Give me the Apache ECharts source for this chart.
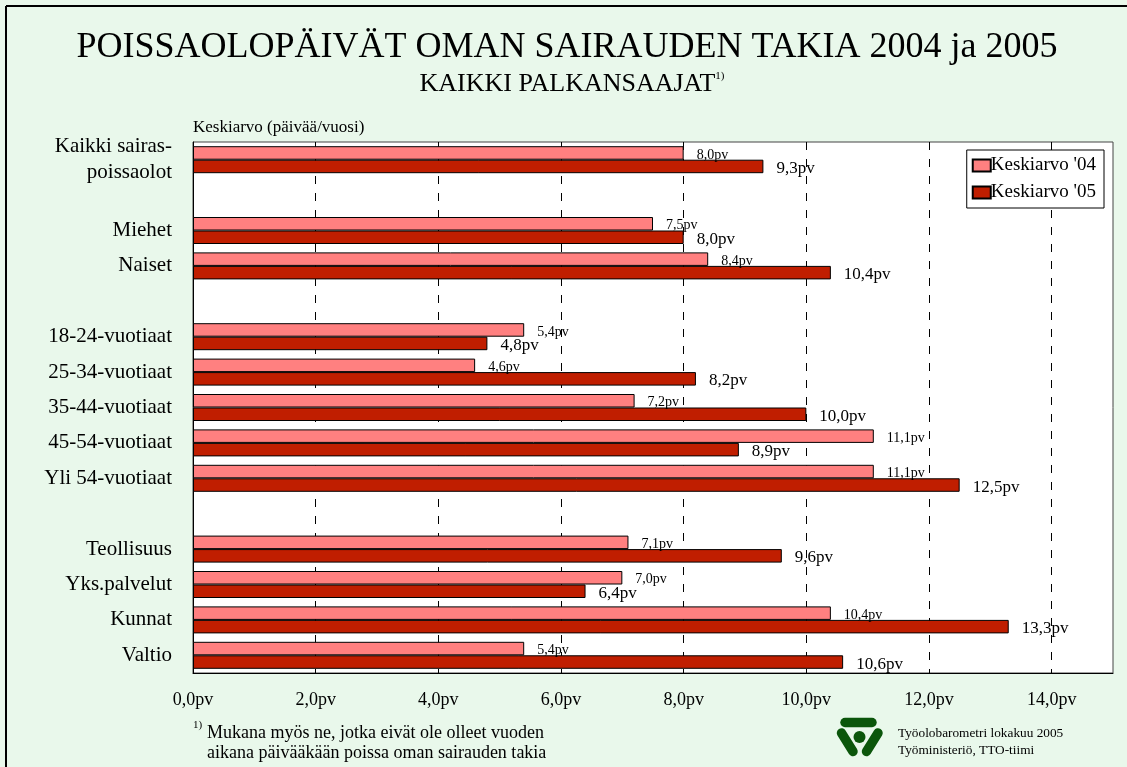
<!DOCTYPE html>
<html>
<head>
<meta charset="utf-8">
<script src="https://cdn.jsdelivr.net/npm/echarts@6/dist/echarts.min.js"></script>
<style>
  html, body { margin: 0; padding: 0; background: #E9F8EB; overflow: hidden; }
  #chart { width: 1127px; height: 767px; }
</style>
</head>
<body>
<div id="chart"></div>
<script>
// tyhjät rivit ('') erottavat ryhmät toisistaan
const categories = ['Kaikki sairas-\npoissaolot', '', 'Miehet', 'Naiset', '',
  '18-24-vuotiaat', '25-34-vuotiaat', '35-44-vuotiaat', '45-54-vuotiaat', 'Yli 54-vuotiaat', '',
  'Teollisuus', 'Yks.palvelut', 'Kunnat', 'Valtio']
const avg04 = [8.0, '-', 7.5, 8.4, '-', 5.4, 4.6, 7.2, 11.1, 11.1, '-', 7.1, 7.0, 10.4, 5.4]
const avg05 = [9.3, '-', 8.0, 10.4, '-', 4.8, 8.2, 10.0, 8.9, 12.5, '-', 9.6, 6.4, 13.3, 10.6]
const seriesNames = ["Keskiarvo '04", "Keskiarvo '05"]
const xTicks = [0, 2, 4, 6, 8, 10, 12, 14]

const FONT = '"Liberation Serif", "Times New Roman", serif'
const fmt = v => v.toFixed(1).replace('.', ',') + 'pv'

const myChart = echarts.init(document.getElementById('chart'))

const option = {
  backgroundColor: '#E9F8EB',
  textStyle: { fontFamily: FONT, color: '#000' },
  grid: {
    left: 193, right: 14, top: 142, bottom: 94,
    show: true, backgroundColor: '#fff', borderColor: '#444', borderWidth: 1,
    outerBoundsMode: 'none'
  },
  legend: {
    data: seriesNames,
    orient: 'vertical',
    right: 23, top: 150,
    backgroundColor: '#fff',
    borderColor: '#000', borderWidth: 1,
    padding: [6, 8, 6, 5],
    icon: 'rect',
    itemWidth: 18, itemHeight: 12, itemGap: 8,
    textStyle: { fontFamily: FONT, fontSize: 19, color: '#000', padding: [0, 0, 0, -5] }
  },
  xAxis: {
    type: 'value',
    min: 0, max: 15, interval: 2,
    axisLine: { show: true, lineStyle: { color: '#000' } },
    axisTick: { show: false },
    axisLabel: {
      fontFamily: FONT, fontSize: 18, color: '#000', margin: 18,
      formatter: v => (xTicks.includes(v) ? fmt(v) : '')
    },
    splitLine: {
      show: true, showMinLine: false, showMaxLine: false,
      lineStyle: { color: '#000', width: 1, type: [8, 9] }
    }
  },
  yAxis: {
    type: 'category',
    inverse: true,
    data: categories,
    axisLine: { show: true, lineStyle: { color: '#000' } },
    axisTick: { show: false },
    axisLabel: { fontFamily: FONT, fontSize: 21, color: '#000', margin: 21, lineHeight: 26, align: 'right' }
  },
  series: [
    {
      name: seriesNames[0],
      type: 'bar',
      data: avg04,
      barWidth: 13.5,
      barGap: '0%',
      itemStyle: { color: '#FF8080', borderColor: '#000', borderWidth: 1 },
      label: {
        show: true, position: 'right', distance: 13, offset: [0, 2],
        fontFamily: FONT, fontSize: 14, color: '#000',
        formatter: p => fmt(p.value)
      }
    },
    {
      name: seriesNames[1],
      type: 'bar',
      data: avg05,
      barWidth: 13.5,
      barGap: '0%',
      itemStyle: { color: '#C01E00', borderColor: '#000', borderWidth: 1 },
      label: {
        show: true, position: 'right', distance: 13, offset: [0, 2],
        fontFamily: FONT, fontSize: 17, color: '#000',
        formatter: p => fmt(p.value)
      }
    }
  ],
  graphic: [
    // kehys vain ylä- ja vasemmassa reunassa
    { type: 'line', shape: { x1: 6, y1: 6, x2: 1127, y2: 6 }, style: { stroke: '#000', lineWidth: 2 }, silent: true },
    { type: 'line', shape: { x1: 6, y1: 6, x2: 6, y2: 767 }, style: { stroke: '#000', lineWidth: 2 }, silent: true },
    {
      type: 'text', x: 567, y: 48,
      style: { text: 'POISSAOLOPÄIVÄT OMAN SAIRAUDEN TAKIA 2004 ja 2005', font: '36px ' + FONT, fill: '#000', align: 'center', verticalAlign: 'middle' }
    },
    {
      type: 'text', x: 572, y: 84,
      style: {
        text: '{a|KAIKKI PALKANSAAJAT}{s|1)}',
        align: 'center', verticalAlign: 'middle',
        rich: {
          a: { fontFamily: FONT, fontSize: 26, color: '#000' },
          s: { fontFamily: FONT, fontSize: 11, color: '#000', verticalAlign: 'top' }
        }
      }
    },
    {
      type: 'text', x: 193, y: 128,
      style: { text: 'Keskiarvo (päivää/vuosi)', font: '17px ' + FONT, fill: '#000', verticalAlign: 'middle' }
    },
    // alaviite
    { type: 'text', x: 193, y: 725, style: { text: '1)', font: '11px ' + FONT, fill: '#000', verticalAlign: 'middle' } },
    { type: 'text', x: 207, y: 733, style: { text: 'Mukana myös ne, jotka eivät ole olleet vuoden', font: '18px ' + FONT, fill: '#000', verticalAlign: 'middle' } },
    { type: 'text', x: 207, y: 753, style: { text: 'aikana päivääkään poissa oman sairauden takia', font: '18px ' + FONT, fill: '#000', verticalAlign: 'middle' } },
    // logo
    { type: 'polyline', shape: { points: [[845, 722.5], [872, 722.5]] }, style: { stroke: '#0B560B', lineWidth: 9.5, lineCap: 'round' } },
    { type: 'polyline', shape: { points: [[841.5, 733], [853, 751.5]] }, style: { stroke: '#0B560B', lineWidth: 9.5, lineCap: 'round' } },
    { type: 'polyline', shape: { points: [[878, 733], [866.5, 751.5]] }, style: { stroke: '#0B560B', lineWidth: 9.5, lineCap: 'round' } },
    { type: 'circle', shape: { cx: 859.5, cy: 737, r: 6 }, style: { fill: '#0B560B' } },
    { type: 'text', x: 898, y: 734, style: { text: 'Työolobarometri lokakuu 2005', font: '13.3px ' + FONT, fill: '#000', verticalAlign: 'middle' } },
    { type: 'text', x: 898, y: 751, style: { text: 'Työministeriö, TTO-tiimi', font: '13.3px ' + FONT, fill: '#000', verticalAlign: 'middle' } }
  ]
}

myChart.setOption(option)
window.addEventListener('resize', () => myChart.resize())
</script>
</body>
</html>
